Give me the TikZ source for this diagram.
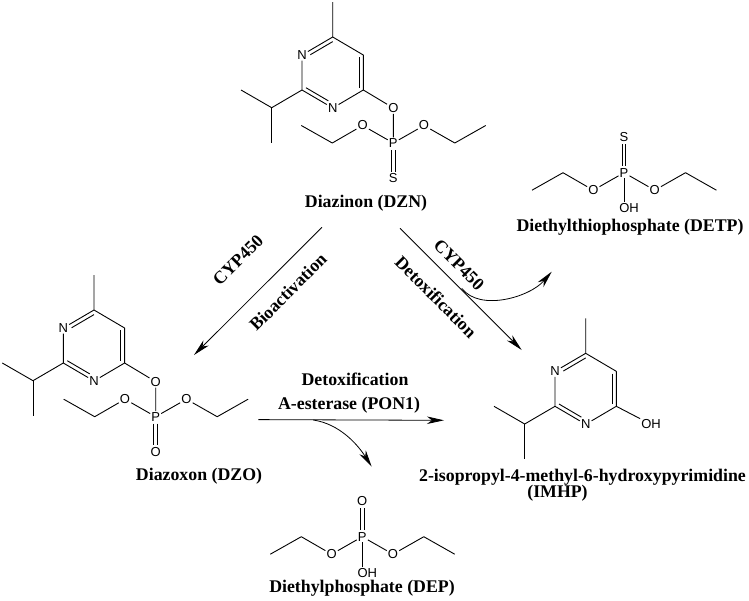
\documentclass[tikz,border=0pt]{standalone}
\usepackage{fontspec}
\usepackage{tikz}
\usetikzlibrary{calc,arrows.meta}
\setmainfont{Liberation Serif}
\newfontfamily\atomfont{Liberation Sans}
\tikzset{
    atom/.style={font=\atomfont\fontsize{13}{15}\selectfont, inner sep=1pt},
    title/.style={font=\bfseries\fontsize{17.8}{20}\selectfont, inner sep=0pt},
    bond/.style={line width=0.9pt, line join=round},
    reaction/.style={line width=0.8pt, -{Stealth[length=17pt,width=7.5pt,inset=5pt]}}
}
\begin{document}
\begin{tikzpicture}[x=1pt,y=-1pt]
    \useasboundingbox (0,0) rectangle (749,600);

    \foreach \m/\dx/\dy in {dzn/0/0, dzo/-238.7/273, imhp/253/316.3} {
        \begin{scope}[shift={(\dx,\dy)}]
            \coordinate (\m-me) at (332.7,2);
            \coordinate (\m-c6) at (332.7,37);
            \coordinate (\m-c5) at (363.3,55);
            \coordinate (\m-c4) at (363.3,90);
            \coordinate (\m-c2) at (302,90);
            \coordinate (\m-ch) at (271.7,107.7);
            \coordinate (\m-me1) at (241,90);
            \coordinate (\m-me2) at (271.7,143);
            \coordinate (\m-ring) at (332.7,72.5);
            \node[atom] (\m-n1) at (302,55) {N};
            \node[atom] (\m-n3) at (332.7,108) {N};
        \end{scope}
        \draw[bond] (\m-me) -- (\m-c6) -- (\m-c5) -- (\m-c4) -- (\m-n3) -- (\m-c2) -- (\m-n1) -- (\m-c6);
        \draw[bond] (\m-c2) -- (\m-ch) -- (\m-me1);
        \draw[bond] (\m-ch) -- (\m-me2);
        \draw[bond] ($(\m-c5)!.13!(\m-ring)$) -- ($(\m-c4)!.13!(\m-ring)$);
        \draw[bond,shorten <=5pt] ($(\m-n1)!.13!(\m-ring)$) -- ($(\m-c6)!.13!(\m-ring)$);
        \draw[bond,shorten >=5pt] ($(\m-c2)!.13!(\m-ring)$) -- ($(\m-n3)!.13!(\m-ring)$);
    }

    \foreach \m/\px/\py/\s/\dbl in {dzn/393.3/143/1/S, dzo/155.7/416.7/1/O, detp/624/172.7/-1/S, dep/362.3/536.7/-1/O} {
        \begin{scope}[shift={(\px,\py)},yscale=\s]
            \node[atom] (\m-p) at (0,0) {P};
            \node[atom] (\m-x) at (0,35.5) {\dbl};
            \node[atom] (\m-ol) at (-30.7,-17.5) {O};
            \node[atom] (\m-or) at (30.7,-17.5) {O};
            \coordinate (\m-cl) at (-61,0);
            \coordinate (\m-tl) at (-92,-17.5);
            \coordinate (\m-cr) at (61.5,0);
            \coordinate (\m-tr) at (92.4,-17.5);
        \end{scope}
        \draw[bond,shorten <=7pt,shorten >=7pt] ([xshift=-1.9pt]\m-p.center) -- ([xshift=-1.9pt]\m-x.center);
        \draw[bond,shorten <=7pt,shorten >=7pt] ([xshift=1.9pt]\m-p.center) -- ([xshift=1.9pt]\m-x.center);
        \draw[bond] (\m-p) -- (\m-ol) -- (\m-cl) -- (\m-tl);
        \draw[bond] (\m-p) -- (\m-or) -- (\m-cr) -- (\m-tr);
    }

    \node[atom] (dzn-o) at (393.3,108) {O};
    \draw[bond] (dzn-c4) -- (dzn-o) -- (dzn-p);
    \node[atom] (dzo-o) at (155.7,381.7) {O};
    \draw[bond] (dzo-c4) -- (dzo-o) -- (dzo-p);
    \node[atom] (detp-oh) at (629,208) {OH};
    \draw[bond] (detp-p) -- (detp-oh.north -| detp-p);
    \node[atom] (dep-oh) at (367.3,572.7) {OH};
    \draw[bond] (dep-p) -- (dep-oh.north -| dep-p);
    \node[atom] (imhp-oh) at (651,424.3) {OH};
    \draw[bond] (imhp-c4) -- (imhp-oh);

    \node[title] (dzn-name) at (366,203) {Diazinon (DZN)};
    \node[title] (detp-name) at (630,227) {Diethylthiophosphate (DETP)};
    \node[title] (dzo-name) at (199,476) {Diazoxon (DZO)};
    \node[title] (imhp-name) at (582.5,477) {2-isopropyl-4-methyl-6-hydroxypyrimidine};
    \node[title] (imhp-abbr) at (557.5,493) {(IMHP)};
    \node[title] (dep-name) at (362,588) {Diethylphosphate (DEP)};

    \node[title] (detox-top) at (355,379) {Detoxification};
    \node[title] (esterase) at (349,405) {A-esterase (PON1)};
    \node[title,rotate=45] (cyp-l) at (238,260) {CYP450};
    \node[title,rotate=45] (bioact) at (288,292) {Bioactivation};
    \node[title,rotate=-45] (cyp-r) at (459,265) {CYP450};
    \node[title,rotate=-45] (detox-r) at (436,297) {Detoxification};

    \coordinate (a-start) at (322,227.3);
    \coordinate (a-end) at (194,355);
    \coordinate (b-start) at (400,228.3);
    \coordinate (b-end) at (521.7,350);
    \coordinate (c-start) at (258.3,419.6);
    \coordinate (c-end) at (444,420.3);
    \coordinate (d-start) at (461.7,288.3);
    \coordinate (d-end) at (551.7,271.7);
    \coordinate (e-start) at (313.3,420);
    \coordinate (e-end) at (371.7,466.7);

    \draw[reaction] (a-start) -- (a-end);
    \draw[reaction] (b-start) -- (b-end);
    \draw[reaction] (c-start) -- (c-end);
    \draw[reaction] (d-start) .. controls (480,312) and (530,297) .. (d-end);
    \draw[reaction] (e-start) .. controls (340,424) and (358,445) .. (e-end);
\end{tikzpicture}
\end{document}
